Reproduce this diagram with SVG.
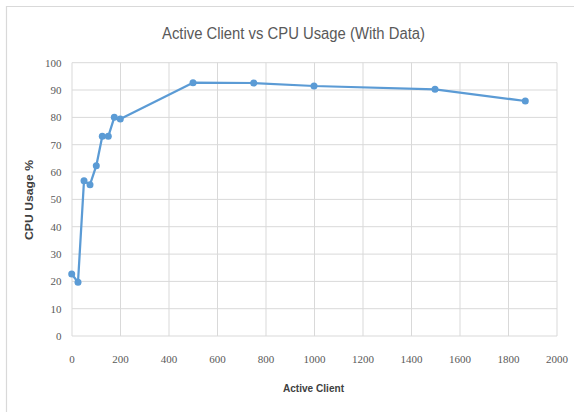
<svg xmlns="http://www.w3.org/2000/svg" width="574" height="412" viewBox="0 0 574 412">
  <style>
    .grid { stroke: #d9d9d9; stroke-width: 1; fill: none; }
    .tick { font-family: "Liberation Serif", serif; font-size: 11px; fill: #595959; }
    .axis-title { font-family: "Liberation Sans", Arial, sans-serif; font-size: 11px; font-weight: bold; fill: #404040; }
    .title { font-family: "Liberation Sans", Arial, sans-serif; font-size: 16px; fill: #595959; }
    .series { stroke: #5b9bd5; stroke-width: 2.25; fill: none; stroke-linejoin: round; }
    .pt { fill: #5b9bd5; }
  </style>

  <rect x="0" y="0" width="574" height="412" fill="#ffffff"/>
  <!-- chart frame (left and top edges) -->
  <path d="M6.5 412 V6.5 H574" stroke="#d9d9d9" stroke-width="1.2" fill="none"/>

  <text class="title" x="293.5" y="39" text-anchor="middle" textLength="263" lengthAdjust="spacingAndGlyphs">Active Client vs CPU Usage (With Data)</text>

  <!-- gridlines -->
  <g id="gridlines" class="grid">
    <path d="M72 62.7 H557 M72 90 H557 M72 117.4 H557 M72 144.7 H557 M72 172.1 H557 M72 199.4 H557 M72 226.7 H557 M72 254.1 H557 M72 281.4 H557 M72 308.7 H557 M72 336 H557"/>
    <path d="M72 62.7 V336 M120.5 62.7 V336 M169 62.7 V336 M217.5 62.7 V336 M266 62.7 V336 M314.5 62.7 V336 M363 62.7 V336 M411.5 62.7 V336 M460 62.7 V336 M508.5 62.7 V336 M557 62.7 V336"/>
  </g>

  <!-- y axis labels -->
  <g id="y-axis" class="tick" text-anchor="end">
    <text x="61.5" y="66.7">100</text>
    <text x="61.5" y="94">90</text>
    <text x="61.5" y="121.4">80</text>
    <text x="61.5" y="148.7">70</text>
    <text x="61.5" y="176.1">60</text>
    <text x="61.5" y="203.4">50</text>
    <text x="61.5" y="230.7">40</text>
    <text x="61.5" y="258.1">30</text>
    <text x="61.5" y="285.4">20</text>
    <text x="61.5" y="312.7">10</text>
    <text x="61.5" y="340">0</text>
  </g>

  <!-- x axis labels -->
  <g id="x-axis" class="tick" text-anchor="middle">
    <text x="72" y="363">0</text>
    <text x="120.5" y="363">200</text>
    <text x="169" y="363">400</text>
    <text x="217.5" y="363">600</text>
    <text x="266" y="363">800</text>
    <text x="314.5" y="363">1000</text>
    <text x="363" y="363">1200</text>
    <text x="411.5" y="363">1400</text>
    <text x="460" y="363">1600</text>
    <text x="508.5" y="363">1800</text>
    <text x="557" y="363">2000</text>
  </g>

  <text class="axis-title" x="313.5" y="392" text-anchor="middle" textLength="61" lengthAdjust="spacingAndGlyphs">Active Client</text>
  <text class="axis-title" transform="translate(33 200) rotate(-90)" text-anchor="middle" textLength="80" lengthAdjust="spacingAndGlyphs">CPU Usage %</text>

  <!-- data series -->
  <g id="series">
    <polyline class="series" points="71.7,274 78,282.3 84,180.7 90,184.7 96.3,165.7 102.3,136.3 108.3,136.3 114.3,117.3 120.3,119 193,82.7 253.7,83 314,86 435,89.3 525.3,101"/>
    <g class="pt">
      <circle cx="71.7" cy="274" r="3.5"/>
      <circle cx="78" cy="282.3" r="3.5"/>
      <circle cx="84" cy="180.7" r="3.5"/>
      <circle cx="90" cy="184.7" r="3.5"/>
      <circle cx="96.3" cy="165.7" r="3.5"/>
      <circle cx="102.3" cy="136.3" r="3.5"/>
      <circle cx="108.3" cy="136.3" r="3.5"/>
      <circle cx="114.3" cy="117.3" r="3.5"/>
      <circle cx="120.3" cy="119" r="3.5"/>
      <circle cx="193" cy="82.7" r="3.5"/>
      <circle cx="253.7" cy="83" r="3.5"/>
      <circle cx="314" cy="86" r="3.5"/>
      <circle cx="435" cy="89.3" r="3.5"/>
      <circle cx="525.3" cy="101" r="3.5"/>
    </g>
  </g>
</svg>
